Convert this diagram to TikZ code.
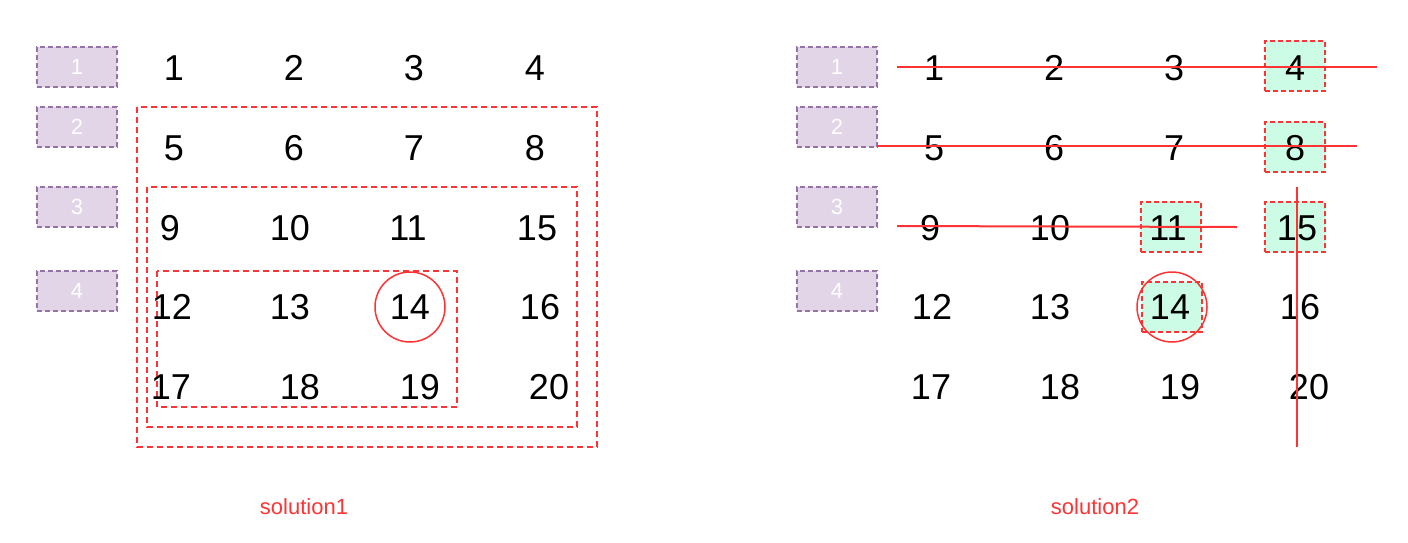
\documentclass[tikz,border=0pt]{standalone}
\usepackage{fontspec}
\setmainfont{Liberation Sans}
\usepackage{xcolor}
\definecolor{MarkRed}{HTML}{FF3333}
\definecolor{TagFill}{HTML}{E1D5E7}
\definecolor{TagLine}{HTML}{9673A6}
\definecolor{HitFill}{HTML}{CCFBE6}
\usetikzlibrary{positioning}

\begin{document}
\begin{tikzpicture}[x=1pt, y=-1pt,
        rowtag/.style={draw=TagLine, fill=TagFill, line width=1.5pt, dash pattern=on 5pt off 3pt,
            minimum width=80pt, minimum height=40pt, inner sep=0pt, text=white,
            font=\fontsize{22}{24}\selectfont},
        num/.style={inner sep=0pt, font=\fontsize{36}{40}\selectfont},
        hit/.style={draw=MarkRed, fill=HitFill, line width=1.5pt, dash pattern=on 5pt off 3pt,
            minimum width=60pt, minimum height=50pt, inner sep=0pt},
        region/.style={draw=MarkRed, line width=1.6pt, dash pattern=on 6pt off 4pt},
        ring/.style={circle, draw=MarkRed, line width=1.5pt, minimum size=70pt, inner sep=0pt},
        strike/.style={MarkRed, line width=2pt},
        caption/.style={text=MarkRed, font=\fontsize{22}{24}\selectfont}
    ]
        \useasboundingbox (0,0) rectangle (1408,542);

        % Row tags for both panels
        \foreach \i/\y in {1/67,2/127,3/207,4/291} {
            \node[rowtag] (lt\i) at (77,\y) {\i};
            \node[rowtag] (rt\i) at (837,\y) {\i};
        }

        % solution1: nested search regions
        \draw[region] (137,107) rectangle (597,447);
        \draw[region] (147,187) rectangle (577,427);
        \draw[region] (157,271) rectangle (457,407);

        % solution2: cells that were checked
        \foreach \n/\x/\y in {4/1295/66,8/1295/147,11/1171/227,15/1295/227,14/1172/307} {
            \node[hit] (h\n) at (\x,\y) {};
        }

        % Number grids (right one shifted by 760)
        \foreach \side/\dx in {l/0,r/760} {
            \foreach \n/\x/\y in {1/174/68,2/294/68,3/414/68,4/535/68,
                                  5/174/148,6/294/148,7/414/148,8/535/148,
                                  9/170/228,10/290/228,11/408/228,15/537/228,
                                  12/172/307,13/290/307,14/410/307,16/540/307,
                                  17/171/387,18/300/387,19/420/387,20/549/387} {
                \node[num] (\side\n) at (\x+\dx,\y) {\n};
            }
        }

        % Target marks
        \node[ring] (lring) at (410,307) {};
        \node[ring] (rring) at (1172,307) {};

        % Strike-through lines of solution2
        \draw[strike] (897,67) -- (1377,67);
        \draw[strike] (877,146) -- (1357,146);
        \draw[strike] (897,226) -- (1237,227);
        \draw[strike] (1297,187) -- (1297,447);

        % Captions
        \node[caption] (cap1) at (304,507) {solution1};
        \node[caption] (cap2) at (1095,507) {solution2};
    \end{tikzpicture}
\end{document}
